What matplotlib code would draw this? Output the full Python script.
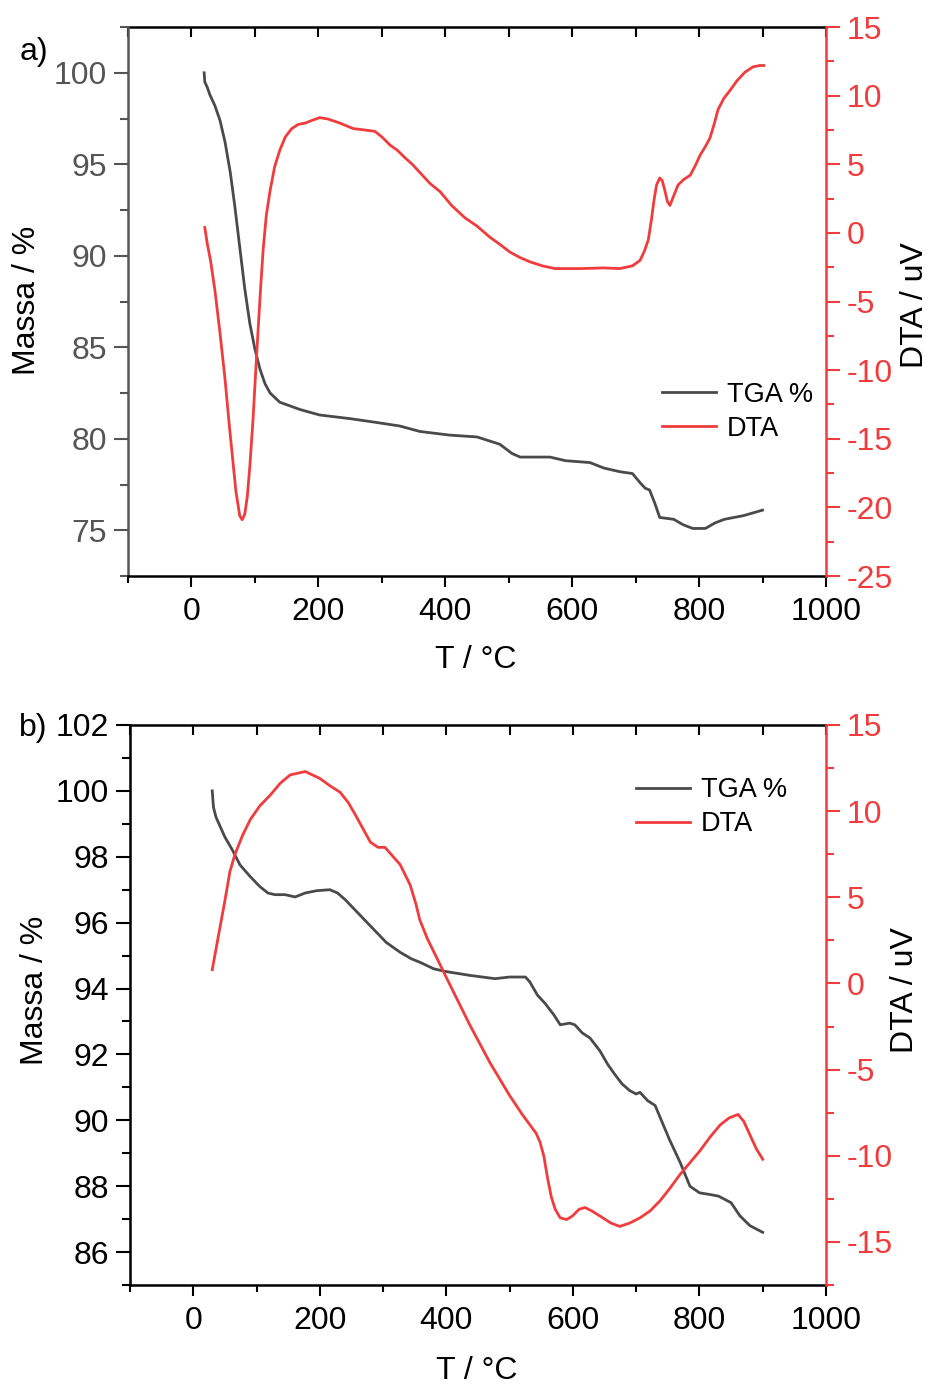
import matplotlib
matplotlib.use("Agg")
import matplotlib.pyplot as plt
from matplotlib.ticker import MultipleLocator

plt.rcParams['font.family'] = ['Liberation Sans', 'DejaVu Sans']
plt.rcParams['axes.unicode_minus'] = False

# panel a) data
t_tga_a = [20, 21, 25, 29, 37, 45, 53, 61, 68, 76, 84, 92, 100, 108, 116, 124, 139, 155,
           171, 202, 250, 290, 328, 360, 407, 450, 486, 505, 518, 565, 590, 628, 650, 675,
           695, 707, 715, 722, 730, 738, 760, 775, 790, 810, 825, 840, 870, 900]
tga_a = [100.0, 99.5, 99.2, 98.8, 98.2, 97.4, 96.2, 94.6, 92.8, 90.5, 88.2, 86.3, 84.9,
         83.8, 83.0, 82.5, 82.0, 81.8, 81.6, 81.3, 81.1, 80.9, 80.7, 80.4, 80.2, 80.1,
         79.7, 79.2, 79.0, 79.0, 78.8, 78.7, 78.4, 78.2, 78.1, 77.6, 77.3, 77.2, 76.5,
         75.7, 75.6, 75.3, 75.1, 75.1, 75.4, 75.6, 75.8, 76.1]
t_dta_a = [21, 25, 30, 37, 45, 53, 60, 65, 70, 76, 80, 84, 88, 92, 97, 101, 105, 109, 113,
           118, 124, 131, 139, 148, 158, 168, 179, 190, 202, 215, 234, 255, 273, 289, 300,
           313, 325, 336, 348, 360, 376, 392, 410, 431, 450, 470, 485, 502, 518, 533, 553,
           573, 612, 650, 675, 695, 707, 714, 720, 725, 729, 733, 738, 742, 746, 750, 754,
           760, 767, 776, 786, 794, 802, 810, 817, 823, 830, 839, 849, 860, 872, 885, 896, 902]
dta_a = [0.4, -0.8, -2.0, -4.2, -7.3, -10.7, -14.2, -16.5, -18.8, -20.6, -20.9, -20.5,
         -19.2, -17.0, -13.6, -10.3, -7.1, -4.0, -1.2, 1.3, 3.1, 4.8, 6.0, 7.0, 7.6, 7.9,
         8.0, 8.2, 8.4, 8.3, 8.0, 7.6, 7.5, 7.4, 7.0, 6.4, 6.0, 5.5, 5.0, 4.4, 3.6, 3.0,
         2.0, 1.1, 0.5, -0.3, -0.8, -1.4, -1.8, -2.1, -2.4, -2.6, -2.6, -2.55, -2.6, -2.4,
         -2.0, -1.3, -0.5, 1.0, 2.4, 3.5, 4.0, 3.8, 3.1, 2.3, 2.0, 2.7, 3.5, 3.9, 4.2, 4.9,
         5.7, 6.3, 6.9, 7.8, 9.0, 9.8, 10.4, 11.1, 11.7, 12.1, 12.2, 12.2]

# panel b) data
t_tga_b = [30, 32, 36, 50, 62, 74, 90, 105, 118, 129, 145, 161, 177, 195, 216, 228, 240,
           260, 280, 305, 327, 345, 358, 380, 398, 437, 477, 500, 516, 525, 532, 544, 556,
           570, 580, 595, 603, 615, 627, 643, 655, 666, 678, 690, 700, 706, 718, 730, 742,
           753, 770, 785, 800, 816, 830, 840, 850, 864, 880, 900]
tga_b = [100.0, 99.5, 99.2, 98.6, 98.2, 97.75, 97.4, 97.1, 96.9, 96.85, 96.85, 96.78,
         96.9, 96.97, 97.0, 96.9, 96.7, 96.3, 95.9, 95.4, 95.1, 94.9, 94.8, 94.6, 94.52,
         94.4, 94.3, 94.35, 94.35, 94.35, 94.2, 93.8, 93.55, 93.2, 92.9, 92.95, 92.9,
         92.65, 92.5, 92.1, 91.7, 91.4, 91.1, 90.9, 90.8, 90.85, 90.6, 90.45, 89.9, 89.4,
         88.7, 88.0, 87.8, 87.75, 87.7, 87.6, 87.5, 87.1, 86.8, 86.6]
t_dta_b = [30, 34, 42, 50, 58, 66, 78, 90, 105, 121, 137, 153, 177, 200, 215, 232, 245,
           256, 268, 280, 292, 303, 315, 327, 343, 352, 358, 370, 382, 406, 437, 469, 500,
           520, 532, 542, 548, 554, 560, 566, 572, 580, 590, 599, 610, 619, 630, 643, 660,
           674, 690, 706, 722, 738, 753, 769, 785, 801, 817, 833, 847, 861, 870, 880, 890, 900]
dta_b = [0.8, 1.6, 3.2, 4.8, 6.5, 7.5, 8.6, 9.5, 10.3, 10.9, 11.6, 12.1, 12.3, 11.9, 11.5,
         11.1, 10.5, 9.8, 9.0, 8.2, 7.9, 7.9, 7.4, 6.9, 5.7, 4.6, 3.7, 2.6, 1.7, -0.1,
         -2.4, -4.6, -6.5, -7.6, -8.2, -8.7, -9.2, -10.0, -11.3, -12.4, -13.1, -13.6,
         -13.7, -13.5, -13.1, -13.0, -13.2, -13.5, -13.9, -14.1, -13.9, -13.6, -13.2,
         -12.6, -11.9, -11.1, -10.4, -9.7, -8.9, -8.2, -7.8, -7.6, -8.0, -8.8, -9.6, -10.2]

GRAY = '#4a4a4a'
RED = '#f03c3c'
FS = 23

fig = plt.figure(figsize=(9.33, 13.87), dpi=100)


def make_panel(rect, t1, y1, t2, y2, ylim1, major1, minor1, ylim2, left_color,
               ylab_x, ylab_y, rlab_x, rlab_y, leg_xy, tag, tag_xy):
    ax = fig.add_axes(rect)
    ax2 = ax.twinx()
    l1, = ax.plot(t1, y1, color=GRAY, lw=2, label='TGA %')
    l2, = ax2.plot(t2, y2, color=RED, lw=2, label='DTA')

    ax.set_xlim(-100, 1000)
    ax.set_ylim(*ylim1)
    ax2.set_ylim(*ylim2)
    ax.xaxis.set_major_locator(MultipleLocator(200))
    ax.xaxis.set_minor_locator(MultipleLocator(100))
    ax.yaxis.set_major_locator(MultipleLocator(major1))
    ax.yaxis.set_minor_locator(MultipleLocator(minor1))
    ax2.yaxis.set_major_locator(MultipleLocator(5))
    ax2.yaxis.set_minor_locator(MultipleLocator(2.5))

    ax.tick_params(axis='x', which='both', direction='out', top=False, labelsize=FS,
                   width=1.5, pad=7)
    ax.tick_params(axis='x', which='major', length=8)
    ax.tick_params(axis='x', which='minor', length=5)
    ax.tick_params(axis='y', which='both', direction='out', labelsize=FS, width=1.5,
                   colors=left_color, pad=5)
    ax.tick_params(axis='y', which='major', length=10)
    ax.tick_params(axis='y', which='minor', length=6)
    ax2.tick_params(axis='y', which='both', direction='out', labelsize=FS, width=1.5,
                    colors=RED, pad=5)
    ax2.tick_params(axis='y', which='major', length=10)
    ax2.tick_params(axis='y', which='minor', length=6)

    # top axis: inward ticks, no labels
    top = ax.secondary_xaxis('top')
    top.xaxis.set_major_locator(MultipleLocator(200))
    top.xaxis.set_minor_locator(MultipleLocator(100))
    top.tick_params(which='both', direction='in', length=7, width=1.5, labeltop=False)
    top.spines['top'].set_linewidth(1.8)

    ax.spines['bottom'].set_linewidth(1.8)
    ax.spines['top'].set_visible(False)
    ax.spines['left'].set_color(left_color)
    ax.spines['left'].set_linewidth(1.8)
    ax2.spines['left'].set_visible(False)
    ax2.spines['top'].set_visible(False)
    ax2.spines['bottom'].set_visible(False)
    ax.spines['right'].set_visible(False)
    ax2.spines['right'].set_color(RED)
    ax2.spines['right'].set_linewidth(1.8)

    ax.set_xlabel('T / °C', fontsize=FS)
    ax.xaxis.set_label_coords(0.4986, -0.153)
    ax.xaxis.label.set_va('center')
    ax.set_ylabel('Massa / %', fontsize=FS, va='center')
    ax.yaxis.set_label_coords(ylab_x, ylab_y)
    ax2.set_ylabel('DTA / uV', fontsize=FS, va='center')
    ax2.yaxis.set_label_coords(rlab_x, rlab_y)

    ax2.legend([l1, l2], ['TGA %', 'DTA'], loc='upper left', bbox_to_anchor=leg_xy,
               frameon=False, fontsize=19.5, handlelength=2.0, handletextpad=0.4,
               labelspacing=0.3, borderpad=0, borderaxespad=0)
    fig.text(tag_xy[0], tag_xy[1], tag, fontsize=FS, ha='center', va='center')
    return ax, ax2


make_panel([0.1372, 0.5847, 0.7481, 0.3958], t_tga_a, tga_a, t_dta_a, dta_a,
           (72.5, 102.5), 5, 2.5, (-25, 15), '#555555',
           -0.1447, 0.503, 1.1275, 0.494, (0.765, 0.354), 'a)', (34 / 933, 1 - 52 / 1387))
make_panel([0.1393, 0.0735, 0.746, 0.4038], t_tga_b, tga_b, t_dta_b, dta_b,
           (85, 102), 2, 1, (-17.5, 15), 'black',
           -0.1365, 0.527, 1.1135, 0.527, (0.727, 0.907), 'b)', (33 / 933, 1 - 728 / 1387))

fig.savefig('out.png', dpi=100)
